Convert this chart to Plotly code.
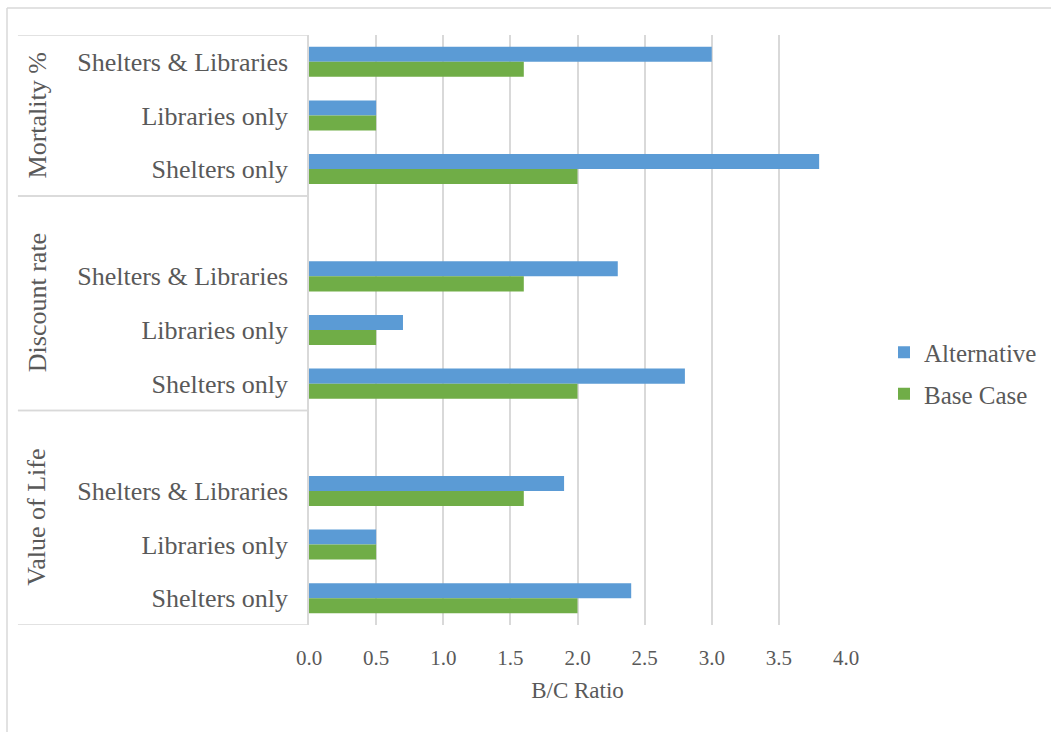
import plotly.graph_objects as go

# ---- data ----
groups = ["Mortality %", "Discount rate", "Value of Life"]
options = ["Shelters & Libraries", "Libraries only", "Shelters only"]
alternative = [
    [3.0, 0.5, 3.8],   # Mortality %
    [2.3, 0.7, 2.8],   # Discount rate
    [1.9, 0.5, 2.4],   # Value of Life
]
base_case = [
    [1.6, 0.5, 2.0],
    [1.6, 0.5, 2.0],
    [1.6, 0.5, 2.0],
]
x_ticks = [0, 0.5, 1.0, 1.5, 2.0, 2.5, 3.0, 3.5, 4.0]
x_tick_labels = ["0.0", "0.5", "1.0", "1.5", "2.0", "2.5", "3.0", "3.5", "4.0"]

# slot layout: each group after the first has one empty slot before it
slot_pos = []
slot_lbl = []
alt_vals = []
base_vals = []
group_span = []
slots_per_group = len(options) + 1
for gi, g in enumerate(groups):
    start = gi * slots_per_group
    first = start if gi == 0 else start - 1
    for oi, o in enumerate(options):
        slot_pos.append(start + oi)
        slot_lbl.append(o)
        alt_vals.append(alternative[gi][oi])
        base_vals.append(base_case[gi][oi])
    group_span.append((first - 0.5, start + len(options) - 0.5))
n_slots = slot_pos[-1] + 1

FONT = "Liberation Serif, Times New Roman, serif"
TXT = "#595959"
GRID = "#d9d9d9"

fig = go.Figure()
fig.add_trace(go.Bar(
    name="Alternative", y=slot_pos, x=alt_vals, orientation="h",
    marker=dict(color="#5B9BD5", line=dict(width=0)), legendgroup="a",
))
fig.add_trace(go.Bar(
    name="Base Case", y=slot_pos, x=base_vals, orientation="h",
    marker=dict(color="#70AD47", line=dict(width=0)), legendgroup="b",
))

shapes = []
# group separator lines in the category area
for (a, b) in group_span:
    for yv in (a, b):
        shapes.append(dict(type="line", xref="paper", yref="y",
                           x0=-0.542, x1=0, y0=yv, y1=yv,
                           line=dict(color=GRID, width=1.5)))
# outer chart border (left + top)
shapes.append(dict(type="line", xref="paper", yref="paper",
                   x0=(7 - 309) / 537, x1=(1051 - 309) / 537,
                   y0=(625 - 8) / 590, y1=(625 - 8) / 590,
                   line=dict(color=GRID, width=1.5)))
shapes.append(dict(type="line", xref="paper", yref="paper",
                   x0=(7 - 309) / 537, x1=(7 - 309) / 537,
                   y0=(625 - 8) / 590, y1=(625 - 740) / 590,
                   line=dict(color=GRID, width=1.5)))

annotations = []
for gi, g in enumerate(groups):
    a, b = group_span[gi]
    annotations.append(dict(
        text=g, xref="paper", yref="y", x=(37 - 309) / 537, y=(a + b) / 2,
        textangle=-90, showarrow=False, xanchor="center", yanchor="middle",
        font=dict(family=FONT, size=26, color=TXT),
    ))

fig.update_layout(
    width=1051, height=732,
    margin=dict(l=309, r=205, t=35, b=107, autoexpand=False),
    paper_bgcolor="white", plot_bgcolor="white",
    barmode="group", bargap=0.44, bargroupgap=0,
    font=dict(family=FONT, color=TXT),
    xaxis=dict(
        range=[0, 4], tickvals=x_ticks, ticktext=x_tick_labels,
        showgrid=True, gridcolor=GRID, gridwidth=1.5, zeroline=False,
        showline=False, ticks="", ticklabelstandoff=18,
        tickfont=dict(family=FONT, size=21, color=TXT),
        title=dict(text="B/C Ratio", font=dict(family=FONT, size=23, color=TXT), standoff=12),
    ),
    yaxis=dict(
        range=[n_slots - 0.5, -0.5], tickvals=slot_pos, ticktext=slot_lbl,
        showgrid=False, zeroline=False, showline=True, linecolor=GRID, linewidth=1.5,
        ticks="", ticklabelstandoff=14,
        tickfont=dict(family=FONT, size=26, color=TXT),
    ),
    legend=dict(
        x=(884 - 309) / 537, y=(625 - 373) / 590, xanchor="left", yanchor="middle",
        font=dict(family=FONT, size=25, color=TXT),
        traceorder="grouped", tracegroupgap=6, bgcolor="rgba(0,0,0,0)",
    ),
    shapes=shapes, annotations=annotations,
)

fig.write_html("out.html")
